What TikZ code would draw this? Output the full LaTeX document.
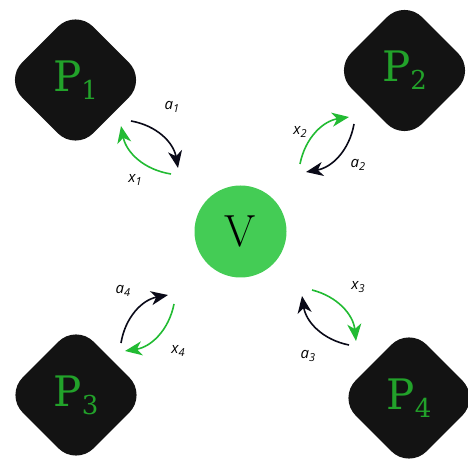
\documentclass[tikz,border=0pt]{standalone}
\usepackage{fontspec}
\usepackage{tkz-euclide}
\usetikzlibrary{arrows.meta,shapes.geometric}
\newfontfamily\slabfont{DejaVu Serif}
\newfontfamily\labelfont{Open Sans}
\definecolor{BoxClr}{HTML}{131313}
\definecolor{NameClr}{HTML}{22A22A}
\definecolor{HubClr}{HTML}{44CC55}
\definecolor{FlowClr}{HTML}{22BB33}
\definecolor{ArrClr}{HTML}{0A0A18}
\newcommand{\pname}[1]{{\fontsize{42}{42}\selectfont P}\raisebox{-8pt}{\fontsize{26}{26}\selectfont #1}}
\newcommand{\flowlbl}[2]{{\itshape #1}\raisebox{-3pt}{\fontsize{11}{11}\selectfont\itshape #2}}

\begin{document}
\begin{tikzpicture}[x=1pt,y=1pt,
  party/.style={diamond,aspect=1,fill=BoxClr,rounded corners=25pt,minimum size=142pt,inner sep=0pt,text=NameClr,font=\slabfont},
  hub/.style={circle,fill=HubClr,minimum size=92pt,inner sep=0pt,font=\fontsize{45}{45}\selectfont},
  ask/.style={draw=ArrClr,line width=1.6pt,-{Stealth[length=17pt,width=14pt,inset=5pt]}},
  give/.style={draw=FlowClr,line width=1.6pt,-{Stealth[length=17pt,width=14pt,inset=5pt]}},
  lbl/.style={font=\labelfont\fontsize{15}{15}\selectfont,inner sep=0pt}]
\useasboundingbox (0,0) rectangle (468,458);

\node[party] (P1) at (75.5,378) {\pname{1}};
\node[party] (P2) at (404.5,387.5) {\pname{2}};
\node[party] (P3) at (76,63) {\pname{3}};
\node[party] (P4) at (409,60) {\pname{4}};
\node[hub] (V) at (240.5,226.5) {V};

\tkzDefPoints{131/337/a1s,178/290/a1e,171/284/x1s,121/332/x1e}
\tkzDefPoints{300/294/x2s,349/341/x2e,354/334/a2s,306/286/a2e}
\tkzDefPoints{312/168/x3s,356/117/x3e,349/113/a3s,302/162/a3e}
\tkzDefPoints{121/115/a4s,168/163/a4e,174/154/x4s,125/107/x4e}

% requests to V, values back
\draw[ask] (a1s) to[bend left=35] (a1e);
\draw[give] (x1s) to[bend left=35] (x1e);
\draw[give] (x2s) to[bend left=35] (x2e);
\draw[ask] (a2s) to[bend left=35] (a2e);
\draw[give] (x3s) to[bend left=35] (x3e);
\draw[ask] (a3s) to[bend left=35] (a3e);
\draw[ask] (a4s) to[bend left=35] (a4e);
\draw[give] (x4s) to[bend left=35] (x4e);

\node[lbl] (la1) at (172,351) {\flowlbl{a}{1}};
\node[lbl] (lx1) at (135,278) {\flowlbl{x}{1}};
\node[lbl] (lx2) at (300,326) {\flowlbl{x}{2}};
\node[lbl] (la2) at (358,293) {\flowlbl{a}{2}};
\node[lbl] (lx3) at (358,171) {\flowlbl{x}{3}};
\node[lbl] (la3) at (308,102) {\flowlbl{a}{3}};
\node[lbl] (la4) at (123,167) {\flowlbl{a}{4}};
\node[lbl] (lx4) at (178,107) {\flowlbl{x}{4}};

\end{tikzpicture}
\end{document}
